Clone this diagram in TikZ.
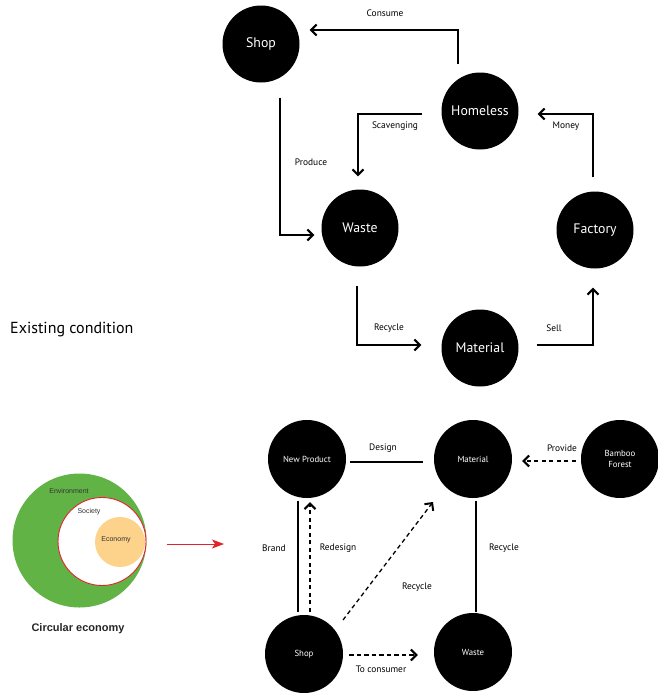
\documentclass[tikz,border=0pt]{standalone}
\usepackage{fontspec}
\setmainfont{PT Sans}
\newfontfamily\arialfont{Liberation Sans}
\usetikzlibrary{arrows.meta,calc}
\definecolor{envgreen}{HTML}{62B346}
\definecolor{ecoorange}{HTML}{FDD38C}
\definecolor{ringred}{HTML}{E0242A}
\begin{document}
\begin{tikzpicture}[x=1pt,y=-1pt,
  bigc/.style={circle,fill=black,draw=none,minimum size=77pt,inner sep=0pt,text=white,font=\fontsize{13.8}{15}\selectfont},
  smallc/.style={circle,fill=black,draw=none,minimum size=78pt,inner sep=0pt,text=white,align=center,font=\fontsize{8.8}{10.5}\selectfont},
  lab/.style={font=\fontsize{9.4}{11}\selectfont,inner sep=0pt},
  conn/.style={line width=1.3pt},
  arr/.style={conn,-{Straight Barb[length=5.5pt,width=11pt,line width=2pt]}},
  darr/.style={arr,dash pattern=on 4.3pt off 3.2pt},
  vtext/.style={font=\arialfont\fontsize{7}{8}\selectfont,inner sep=0pt,text=black!80}
]
\useasboundingbox (0,0) rectangle (658,694);

% ---- Existing condition ----
\node[bigc] (shopA) at (261,44) {Shop};
\node[bigc] (homeless) at (480,111) {Homeless};
\node[bigc] (wasteA) at (360,228) {Waste};
\node[bigc] (factory) at (595,230) {Factory};
\node[bigc] (materialA) at (480,348) {Material};

\draw[arr] ($(homeless.north)+(-22,-8)$) |- ($(shopA.east)+(10,-14)$);
\draw[arr] ($(homeless.west)+(-19,3)$) -| ($(wasteA.north)+(-2,-13)$);
\draw[arr] ($(shopA.south)+(19,15)$) |- ($(wasteA.west)+(-7,7)$);
\draw[arr] ($(wasteA.south)+(-3,19)$) |- ($(materialA.west)+(-20,-3)$);
\draw[arr] ($(materialA.east)+(18,-3)$) -| ($(factory.south)+(-2,19)$);
\draw[arr] ($(factory.north)+(-2,-14)$) |- ($(homeless.east)+(19,3)$);

\node[lab] (lconsume) at (385,13) {Consume};
\node[lab] (lscav) at (395,126) {Scavenging};
\node[lab] (lproduce) at (311,162) {Produce};
\node[lab] (lrecycleA) at (389,328) {Recycle};
\node[lab] (lsell) at (554,328) {Sell};
\node[lab] (lmoney) at (566,126) {Money};

\node[anchor=west,inner sep=0pt,font=\fontsize{16}{18}\selectfont] (existing) at (10,330) {Existing condition};

% ---- Circular economy diagram ----
\node[smallc] (newprod) at (307,459) {New Product};
\node[smallc] (materialB) at (473,459) {Material};
\node[smallc] (bamboo) at (620,459) {Bamboo\\Forest};
\node[smallc] (shopB) at (304,654) {Shop};
\node[smallc] (wasteB) at (473,652) {Waste};

\draw[conn] ($(newprod.east)+(4,3)$) -- ($(materialB.west)+(-11,3)$);
\draw[darr] ($(bamboo.west)+(-5,2)$) -- ($(materialB.east)+(10,2)$);
\draw[conn] ($(shopB.north)+(-6,-3)$) -- ($(newprod.south)+(-9,3)$);
\draw[darr] ($(shopB.north)+(6,-3)$) -- ($(newprod.south)+(3,4)$);
\draw[darr] ($(shopB.center)+(39,-34)$) -- ($(materialB.center)+(-40,43)$);
\draw[conn] ($(materialB.south)+(3,3)$) -- ($(wasteB.north)+(3,-1)$);
\draw[darr] ($(shopB.east)+(6,1)$) -- ($(wasteB.west)+(-16,3)$);

\node[lab] (ldesign) at (383,448) {Design};
\node[lab] (lprovide) at (562,448) {Provide};
\node[lab] (lbrand) at (274,548) {Brand};
\node[lab] (lredesign) at (338,548) {Redesign};
\node[lab] (lrecycleD) at (417,587) {Recycle};
\node[lab] (lrecycleB) at (504,548) {Recycle};
\node[lab] (lconsumer) at (381,669) {To consumer};

% ---- Venn ----
\node[circle,fill=envgreen,minimum size=134pt,inner sep=0pt] (env) at (79.5,540.5) {};
\node[circle,fill=white,draw=ringred,line width=0.9pt,minimum size=88pt,inner sep=0pt] (soc) at (102,541.5) {};
\node[circle,fill=ecoorange,minimum size=50pt,inner sep=0pt] (eco) at (120,542) {};
\node[vtext] (lenv) at (69,491) {Environment};
\node[vtext] (lsoc) at (89,512) {Society};
\node[vtext] (leco) at (116,540) {Economy};
\node[font=\arialfont\bfseries\fontsize{11}{13}\selectfont,inner sep=0pt,text=black!85] (lcirc) at (78,629) {Circular economy};
\coordinate (redend) at (224,544);
\draw[ringred,line width=1pt,-{Stealth[length=12pt,width=9pt,inset=3pt]}] ($(env.east)+(20,3.5)$) -- (redend);
\end{tikzpicture}
\end{document}
